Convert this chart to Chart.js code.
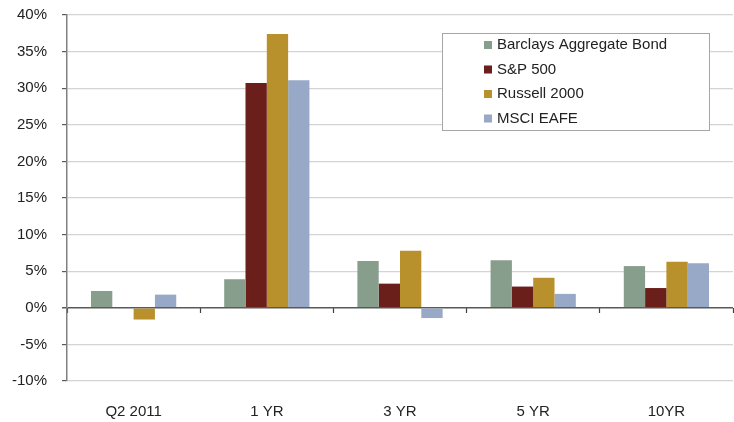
<!DOCTYPE html>
<html>
<head>
<meta charset="utf-8">
<script src="https://cdn.jsdelivr.net/npm/chart.js@4/dist/chart.umd.min.js"></script>
<style>
  html, body { margin: 0; padding: 0; background: #fff; }
  #wrap { width: 734px; height: 422px; position: relative; }
</style>
</head>
<body>
<div id="wrap"><canvas id="c" width="734" height="422"></canvas></div>
<script>
// Periods and annualized returns (%)
const categories = ['Q2 2011', '1 YR', '3 YR', '5 YR', '10YR'];
const barclaysAgg = [2.3, 3.9, 6.4, 6.5, 5.7];
const sp500       = [0.1, 30.7, 3.3, 2.9, 2.7];
const russell2000 = [-1.6, 37.4, 7.8, 4.1, 6.3];
const msciEafe    = [1.8, 31.1, -1.4, 1.9, 6.1];
const yTicks = { min: -10, max: 40, step: 5 };

const FONT = 'Liberation Sans, Arial, sans-serif';

// Boxed legend drawn inside the plot area, upper right
const boxLegend = {
  id: 'boxLegend',
  afterDraw(chart) {
    const ctx = chart.ctx;
    const ca = chart.chartArea;
    const x = ca.right - 291, y = ca.top + 18, w = 267, h = 97;
    ctx.save();
    ctx.fillStyle = '#ffffff';
    ctx.fillRect(x, y, w, h);
    ctx.strokeStyle = '#a6a6a6';
    ctx.lineWidth = 1;
    ctx.strokeRect(x + 0.5, y + 0.5, w, h);
    ctx.font = '15px ' + FONT;
    ctx.textBaseline = 'middle';
    chart.data.datasets.forEach((ds, i) => {
      const cy = y + 12 + i * 24.5;
      ctx.fillStyle = ds.backgroundColor;
      ctx.fillRect(x + 42, cy - 4, 8, 8);
      ctx.fillStyle = '#222222';
      ctx.fillText(ds.label, x + 55, cy);
    });
    ctx.restore();
  }
};

new Chart(document.getElementById('c'), {
  type: 'bar',
  data: {
    labels: categories,
    datasets: [
      { label: 'Barclays Aggregate Bond', data: barclaysAgg, backgroundColor: '#879e8c' },
      { label: 'S&P 500', data: sp500, backgroundColor: '#6b1f1b' },
      { label: 'Russell 2000', data: russell2000, backgroundColor: '#b8902c' },
      { label: 'MSCI EAFE', data: msciEafe, backgroundColor: '#98a8c7' }
    ]
  },
  options: {
    responsive: false,
    animation: false,
    events: [],
    layout: { padding: { left: -3, right: 1, top: 15, bottom: -21 } },
    datasets: { bar: { categoryPercentage: 0.64, barPercentage: 1.0 } },
    plugins: { legend: { display: false }, tooltip: { enabled: false } },
    scales: {
      x: {
        type: 'category',
        position: { y: 0 },
        offset: true,
        ticks: { display: false },
        grid: { offset: true, drawOnChartArea: false, drawTicks: true, tickLength: 5, tickColor: '#404040', tickWidth: 1.2 },
        border: { display: false }
      },
      x2: {
        type: 'category',
        labels: categories,
        position: 'bottom',
        offset: true,
        grid: { display: false, drawTicks: false },
        border: { display: false },
        ticks: { padding: 22, color: '#222222', font: { family: FONT, size: 15 } }
      },
      y: {
        min: yTicks.min,
        max: yTicks.max,
        // keep the label gap from inflating the vertical margins
        afterFit: scale => { scale.paddingTop = 0; scale.paddingBottom = 0; },
        ticks: {
          stepSize: yTicks.step,
          padding: 15,
          color: '#222222',
          font: { family: FONT, size: 15 },
          callback: v => v + '%'
        },
        grid: {
          color: ctx => ctx.tick && ctx.tick.value === 0 ? '#595959' : '#d4d4d4',
          lineWidth: ctx => ctx.tick && ctx.tick.value === 0 ? 1.5 : 1.2,
          tickLength: 5,
          tickColor: '#595959'
        },
        border: { color: '#808080', width: 1.5 }
      }
    }
  },
  plugins: [boxLegend]
});
</script>
</body>
</html>
